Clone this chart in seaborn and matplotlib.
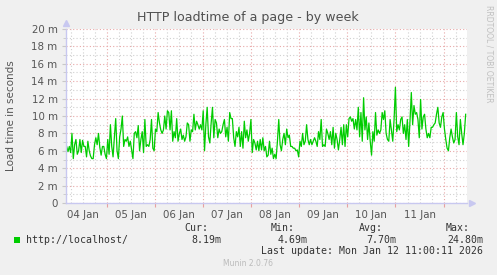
import numpy as np
import pandas as pd
import matplotlib
matplotlib.use("Agg")
import matplotlib.pyplot as plt
import matplotlib.dates as mdates
from matplotlib.ticker import MultipleLocator, FuncFormatter
from matplotlib.patches import Rectangle
import seaborn as sns

# ---------------- data (load time in "m" = milliseconds units) ----------------
seg1 = [6.5,5.9,6.5,5.8,8.0,5.1,6.7,7.3,5.6,6.0,7.3,5.8,7.2,6.5,6.5,5.3,7.1,6.0,5.4,5.1,5.1,6.7,7.5,6.7,8.0,6.4,5.5,6.5,6.5,5.6,5.1,7.3,5.6,9.0,6.5,5.3,7.6,9.7,6.0,5.1,7.6,8.5,10.0,6.5,7.3,7.1,7.6,6.5,7.1,6.1,5.1,8.0,8.2,7.5,8.9,6.0,7.3,8.2,5.8,9.6,6.5,6.7,6.5,7.3,9.6,6.3,6.0,8.5,8.2,10.4,9.2,8.4,8.0,8.4,10.0,8.5,10.6]
seg2 = [10.4,8.4,10.6,7.1,8.2,7.5,9.7,7.1,8.0,8.5,7.3,7.8,7.1,7.6,9.2,9.0,7.1,8.4,8.2,10.2,8.4,9.4,9.0,8.5,9.0,8.4,10.6,6.0,9.0,11.0,7.6,6.9,9.2,11.0,7.5,9.6,9.2,7.5,8.5,8.0,8.2,9.0,9.6,7.6,8.7,7.1,10.4,9.7,9.7,7.5,6.5,8.2,7.6,8.7,6.5,8.2,6.3,9.4,7.5,8.4,7.1,8.0,9.6,5.8,7.3,6.9,6.1,7.1,6.0,7.3,6.1,7.5,6.0,6.5,5.3]
seg3 = [5.5,7.1,5.6,6.3,5.1,5.6,5.1,7.1,9.6,6.7,6.0,7.3,8.0,6.7,8.5,7.5,7.8,6.5,6.5,6.3,6.3,6.0,6.1,5.3,7.1,6.5,8.0,6.7,7.1,9.0,7.3,6.7,7.3,6.7,7.1,7.5,7.1,6.5,8.2,7.3,9.6,6.5,6.7,6.5,8.5,8.0,7.3,8.2,6.7,8.7,6.3,8.0,7.3,6.1,7.3,8.7,6.7,9.0,6.5,9.0,7.6,9.7,9.9,9.4,9.7,8.5,9.6,8.4,11.0,7.6,10.4,7.1,12.1,8.4,9.9,7.3]
seg4 = [9.2,7.1,5.5,8.2,7.1,10.4,7.8,8.4,8.0,8.4,10.4,9.6,10.6,8.0,7.3,7.1,9.6,8.4,7.1,9.6,13.3,8.2,9.0,8.4,9.6,9.9,8.0,9.0,7.3,9.6,6.5,9.4,12.7,9.0,11.2,10.2,10.4,9.6,7.5,11.9,8.5,9.9,10.2,8.5,7.5,8.0,7.5,8.7,8.7,9.0,9.2,10.2,11.0,9.2,8.7,9.9,10.4,8.5,7.3,6.3,6.0,7.5,8.5,7.6,6.9,7.3,10.4,7.6,6.7,9.6,8.0,6.7,8.0,10.2]
load_values = seg1 + seg2 + seg3 + seg4
start_time = "2026-01-04 04:00"
end_time = "2026-01-12 11:00"
y_ticks = [0, 2, 4, 6, 8, 10, 12, 14, 16, 18, 20]
series_name = "http://localhost/"
stats_labels = ["Cur:", "Min:", "Avg:", "Max:"]
stats_values = ["8.19m", "4.69m", "7.70m", "24.80m"]
title = "HTTP loadtime of a page - by week"
ylabel = "Load time in seconds"
last_update = "Last update: Mon Jan 12 11:00:11 2026"

times = pd.date_range(start_time, end_time, periods=len(load_values))
df = pd.DataFrame({"time": times, "load": load_values})

# ---------------- figure ----------------
W, H = 497, 275
fig = plt.figure(figsize=(W / 100, H / 100), dpi=100, facecolor="#F0F0F0")
ax = fig.add_axes([66 / W, 72 / H, 401 / W, 174 / H])
ax.set_facecolor("white")

sns.lineplot(data=df, x="time", y="load", ax=ax, color="#00CC00", lw=0.9)

ax.set_ylim(0, 20)
ax.set_xlim(pd.Timestamp("2026-01-04 03:40"), pd.Timestamp("2026-01-12 11:40"))
ax.set_xlabel("")
ax.set_ylabel("")

# grids
ax.yaxis.set_major_locator(plt.FixedLocator(y_ticks))
ax.yaxis.set_minor_locator(MultipleLocator(1))
ax.yaxis.set_major_formatter(FuncFormatter(lambda v, p: "0" if v == 0 else f"{int(v)} m"))
ax.xaxis.set_major_locator(mdates.DayLocator())
ax.xaxis.set_major_formatter(FuncFormatter(lambda v, p: ""))
ax.xaxis.set_minor_locator(mdates.HourLocator(byhour=[6, 12, 18]))
def minor_fmt(v, p):
    d = mdates.num2date(v)
    return d.strftime("%d %b") if d.hour == 12 else ""
ax.xaxis.set_minor_formatter(FuncFormatter(minor_fmt))

ax.grid(which="major", color="#E8A8A8", linestyle=(0, (1, 2)), lw=0.8)
ax.grid(which="minor", color="#D0D0D0", linestyle=(0, (1, 2)), lw=0.8)
ax.set_axisbelow(True)

ax.tick_params(axis="y", which="major", length=3, color="#C8C8C8", labelsize=7.4, labelcolor="#555555", pad=3)
ax.tick_params(axis="y", which="minor", length=2, color="#C8C8C8")
ax.tick_params(axis="x", which="major", length=3, color="#E8A0A0", pad=1)
ax.tick_params(axis="x", which="minor", length=0, labelsize=7.4, labelcolor="#555555", pad=5)

for s in ["top", "right"]:
    ax.spines[s].set_visible(False)
for s in ["left", "bottom"]:
    ax.spines[s].set_color("#C8C8F0")
    ax.spines[s].set_linewidth(1)

# axis arrows
ax.plot([0], [1.035], marker="^", markersize=5, color="#C8C8F0", transform=ax.transAxes, clip_on=False)
ax.plot([1.012], [0], marker=">", markersize=5, color="#C8C8F0", transform=ax.transAxes, clip_on=False)

# texts
def fx(x):
    return x / W
def fy(y):
    return 1 - y / H

fig.text(fx(248), fy(17), title, ha="center", va="center", fontsize=9.1, color="#505050")
fig.text(fx(11), fy(116), ylabel, ha="center", va="center", rotation=90, fontsize=7.5, color="#555555")
fig.text(fx(489), fy(5), "RRDTOOL / TOBI OETIKER", ha="center", va="top", rotation=270,
         fontsize=5.5, color="#C0C0C0")

mono = "DejaVu Sans Mono"
fig.add_artist(Rectangle((fx(14), fy(243)), 6 / W, 6 / H, transform=fig.transFigure,
                         color="#00CC00", lw=0))
fig.text(fx(26), fy(240), series_name, ha="left", va="center", fontsize=7.1, family=mono, color="#333333")
hdr_x = [208, 295, 383, 470]
val_x = [221, 308, 396, 483]
for lab, hx in zip(stats_labels, hdr_x):
    fig.text(fx(hx), fy(228), lab, ha="right", va="center", fontsize=7.1, family=mono, color="#333333")
for val, vx in zip(stats_values, val_x):
    fig.text(fx(vx), fy(240), val, ha="right", va="center", fontsize=7.1, family=mono, color="#333333")
fig.text(fx(483), fy(251), last_update, ha="right", va="center", fontsize=7.1, family=mono, color="#333333")
fig.text(fx(248), fy(264), "Munin 2.0.76", ha="center", va="center", fontsize=5.5, color="#BBBBBB")

fig.savefig("out.png", dpi=100, facecolor=fig.get_facecolor())
